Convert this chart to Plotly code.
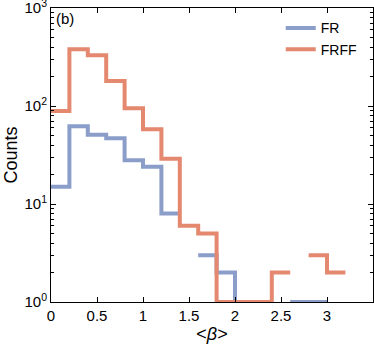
import plotly.graph_objects as go

# bin edges of width 0.2 from 0 to 3.2
bin_edges = [0.0, 0.2, 0.4, 0.6, 0.8, 1.0, 1.2, 1.4, 1.6, 1.8, 2.0, 2.2, 2.4, 2.6, 2.8, 3.0, 3.2]

# counts per bin (0 = empty bin, not drawn on the log axis)
fr_counts = [15, 62, 51, 47, 28, 24, 8, 0, 3, 2, 1, 1, 0, 1, 1, 0]
frff_counts = [89, 380, 330, 180, 95, 58, 29, 6, 5, 1, 1, 1, 2, 0, 3, 2]

x_ticks = [0, 0.5, 1, 1.5, 2, 2.5, 3]
x_tick_labels = ["0", "0.5", "1", "1.5", "2", "2.5", "3"]
y_ticks = [1, 10, 100, 1000]
y_tick_labels = ["10<sup>0</sup>", "10<sup>1</sup>", "10<sup>2</sup>", "10<sup>3</sup>"]

blue = '#8B9DC9'
orange = '#E4886F'


def stair_points(edges, counts):
    """Build step coordinates, breaking the line where a bin is empty."""
    xs, ys = [], []
    i = 0
    n = len(counts)
    while i < n:
        if counts[i] <= 0:
            i += 1
            continue
        j = i
        while j + 1 < n and counts[j + 1] > 0:
            j += 1
        xs += edges[i:j + 2]
        ys += counts[i:j + 1] + [counts[j]]
        xs.append(None)
        ys.append(None)
        i = j + 1
    return xs, ys


fig = go.Figure()

for name, counts, color in [('FR', fr_counts, blue), ('FRFF', frff_counts, orange)]:
    xs, ys = stair_points(bin_edges, counts)
    fig.add_trace(go.Scatter(
        x=xs, y=ys, mode='lines', name=name,
        line=dict(color=color, width=4, shape='hv'),
        connectgaps=False
    ))

minor_vals = [m * 10 ** d for d in range(3) for m in range(2, 10)]

fig.add_annotation(
    text="(b)", x=0.01, y=1.0, xref='paper', yref='paper',
    xanchor='left', yanchor='top', showarrow=False,
    font=dict(size=15, color='black')
)

fig.update_layout(
    width=374, height=348,
    plot_bgcolor='white', paper_bgcolor='white',
    margin=dict(l=51, r=1, t=8, b=46),
    font=dict(family='Liberation Sans, Arial', size=15, color='black'),
    legend=dict(
        x=0.965, y=0.985, xanchor='right', yanchor='top',
        bgcolor='rgba(0,0,0,0)', font=dict(size=14),
        tracegroupgap=0, itemwidth=30
    ),
    xaxis=dict(
        range=[0, 3.5], tickvals=x_ticks, ticktext=x_tick_labels,
        showline=True, mirror='ticks', linecolor='black', linewidth=1,
        ticks='inside', ticklen=5, tickcolor='black',
        showgrid=False, zeroline=False, automargin=False,
        title=dict(text='&lt;<i>β</i>&gt;', standoff=4)
    ),
    yaxis=dict(
        type='log', range=[0, 3], tickvals=y_ticks, ticktext=y_tick_labels,
        showline=True, mirror='ticks', linecolor='black', linewidth=1,
        ticks='inside', ticklen=5, tickcolor='black',
        showgrid=False, zeroline=False, automargin=False,
        ticklabeloverflow='allow',
        minor=dict(tickvals=minor_vals, ticks='inside', ticklen=3, tickcolor='black', showgrid=False),
        title=dict(text='Counts', standoff=2)
    )
)

# the page's default body margin would shift the figure, so drop it
fig.write_html("out.html", config={'displayModeBar': False},
               post_script="document.body.style.margin='0';")
